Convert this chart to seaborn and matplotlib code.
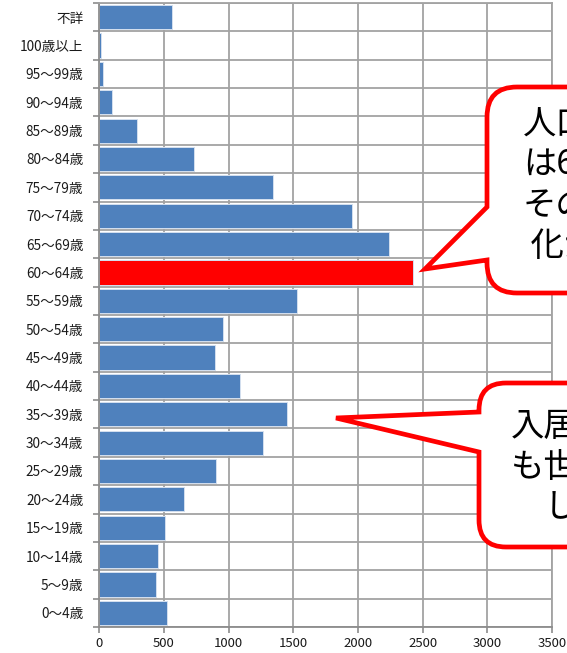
import matplotlib
matplotlib.use("Agg")
import matplotlib.pyplot as plt
from matplotlib.path import Path
from matplotlib.patches import PathPatch
from matplotlib.ticker import FixedLocator
import seaborn as sns
import pandas as pd

# 年齢階級別人口
age_groups = ["不詳", "100歳以上", "95〜99歳", "90〜94歳", "85〜89歳", "80〜84歳",
              "75〜79歳", "70〜74歳", "65〜69歳", "60〜64歳", "55〜59歳", "50〜54歳",
              "45〜49歳", "40〜44歳", "35〜39歳", "30〜34歳", "25〜29歳", "20〜24歳",
              "15〜19歳", "10〜14歳", "5〜9歳", "0〜4歳"]
population = [562, 13, 29, 98, 291, 734,
              1342, 1950, 2239, 2422, 1525, 956,
              894, 1088, 1453, 1268, 902, 655,
              508, 450, 442, 527]
highlight_group = "60〜64歳"
x_ticks = [0, 500, 1000, 1500, 2000, 2500, 3000, 3500]

callout_peak = ["人口のピーク", "は60〜64歳で", "その後も高齢", " 化が続く"]
callout_resident = ["入居者の年齢", "も世帯主と同様", "　している"]

BLUE = "#4F81BD"
RED = "#FF0000"
GRID = "#a3a3a3"

sns.set_style("white")
plt.rcParams["font.family"] = ["Noto Sans CJK JP", "DejaVu Sans"]

df = pd.DataFrame({"age_group": age_groups, "population": population})
colors = {g: (RED if g == highlight_group else BLUE) for g in age_groups}

W, H = 567, 653
fig = plt.figure(figsize=(W / 100, H / 100), dpi=100)
ax = fig.add_axes([99.3 / W, 1 - 627 / H, (552 - 99.3) / W, (627 - 3) / H])

sns.barplot(data=df, x="population", y="age_group", hue="age_group",
            palette=colors, saturation=1, legend=False, orient="h", width=0.85,
            edgecolor="#d4e0ef", linewidth=0.7, ax=ax)

ax.set_xlim(0, 3500)
ax.set_ylim(len(age_groups) - 0.5, -0.5)
ax.set_xlabel("")
ax.set_ylabel("")
ax.set_axisbelow(True)

ax.xaxis.set_major_locator(FixedLocator(x_ticks))
ax.set_xticklabels([str(t) for t in x_ticks])
ax.yaxis.set_minor_locator(FixedLocator([i + 0.5 for i in range(-1, len(age_groups))]))

ax.grid(True, axis="x", which="major", color=GRID, linewidth=1.3)
ax.grid(True, axis="y", which="minor", color=GRID, linewidth=1.3)
ax.grid(False, axis="y", which="major")

ax.tick_params(axis="x", which="major", length=4, width=1.2, color="#8c8c8c",
               pad=3, labelsize=9.5, labelcolor="#1a1a1a", bottom=True)
ax.tick_params(axis="y", which="major", length=0, pad=11.5, labelsize=9.8,
               labelcolor="#1a1a1a")
ax.tick_params(axis="y", which="minor", length=4, width=1.2, color="#8c8c8c", left=True)

for side, spine in ax.spines.items():
    spine.set_visible(True)
    spine.set_color("#8c8c8c" if side in ("left", "bottom") else GRID)
    spine.set_linewidth(1.3)

# 吹き出し(図全体をピクセル座標で覆う重ね描き用の軸)
over = fig.add_axes([0, 0, 1, 1], zorder=10)
over.set_xlim(0, W)
over.set_ylim(H, 0)
over.axis("off")
over.patch.set_alpha(0)


def bubble(left, top, bottom, radius, base_top, base_bottom, tip, right=W + 200):
    L, T, B, R, r = left, top, bottom, right, radius
    verts = [
        (L + r, T), (R - r, T), (R, T), (R, T + r), (R, B - r), (R, B), (R - r, B),
        (L + r, B), (L, B), (L, B - r), (L, base_bottom), tip, (L, base_top),
        (L, T + r), (L, T), (L + r, T), (L + r, T),
    ]
    codes = [
        Path.MOVETO, Path.LINETO, Path.CURVE3, Path.CURVE3, Path.LINETO, Path.CURVE3, Path.CURVE3,
        Path.LINETO, Path.CURVE3, Path.CURVE3, Path.LINETO, Path.LINETO, Path.LINETO,
        Path.LINETO, Path.CURVE3, Path.CURVE3, Path.CLOSEPOLY,
    ]
    over.add_patch(PathPatch(Path(verts, codes), facecolor="white", edgecolor=RED,
                             linewidth=3.4, joinstyle="miter"))


def bubble_text(lines, x, y0, dy):
    for i, line in enumerate(lines):
        over.text(x, y0 + i * dy, line, fontsize=24, color="black",
                  ha="left", va="center")


bubble(487, 87, 293, 30, 207, 260, (425, 269))
bubble_text(callout_peak, 523, 124, 40.7)

bubble(479, 383, 547, 27, 412, 452, (336, 418))
bubble_text(callout_resident, 511, 426, 41)

fig.savefig("out.png", dpi=100)
